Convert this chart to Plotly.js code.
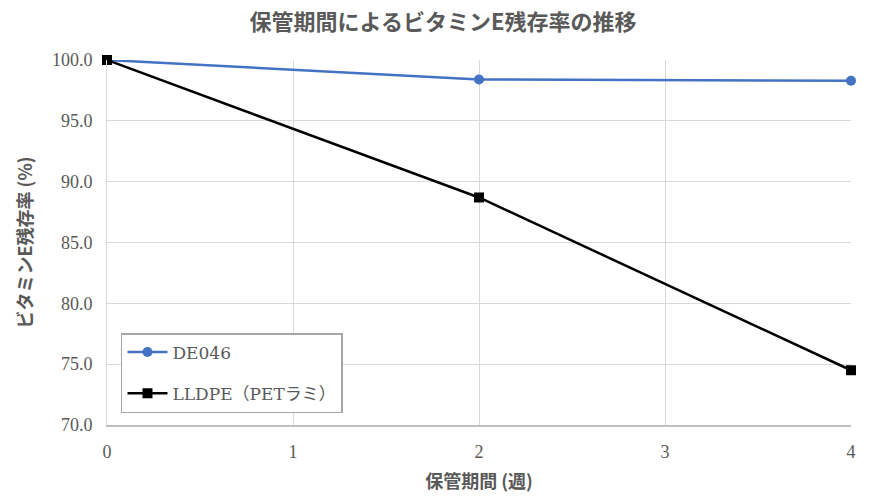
<!DOCTYPE html>
<html><head><meta charset="utf-8">
<script src="https://cdn.plot.ly/plotly-3.0.1.min.js"></script>
<style>html,body{margin:0;padding:0;background:#fff}#c{width:886px;height:504px}</style>
</head><body><div id="c"></div>
<script>
const weeks = [0, 2, 4];
const de046 = [100.0, 98.4, 98.3];
const lldpe = [100.0, 88.7, 74.5];
const seriesNames = ["DE046", "LLDPE（PETラミ）"];
const xTicks = [0, 1, 2, 3, 4];
const yTicks = [70, 75, 80, 85, 90, 95, 100];

const serif = "Liberation Serif, DejaVu Serif, Noto Sans CJK JP, serif";
const legendSerif = "DejaVu Serif, Liberation Serif, Noto Sans CJK JP, serif";
const sans = "Noto Sans CJK JP, Noto Sans, sans-serif";
const gray = "#595959";

const traces = [
  {x: weeks, y: de046, name: seriesNames[0], mode: "lines+markers", legendgroup: "a", cliponaxis: false,
   line: {color: "#4472C4", width: 2.5}, marker: {symbol: "circle", size: 10, color: "#4472C4"}},
  {x: weeks, y: lldpe, name: seriesNames[1], mode: "lines+markers", legendgroup: "b", cliponaxis: false,
   line: {color: "#000000", width: 2.5}, marker: {symbol: "square", size: 10, color: "#000000"}}
];

const layout = {
  width: 886, height: 504,
  margin: {l: 107, r: 35, t: 60, b: 79},
  paper_bgcolor: "#fff", plot_bgcolor: "#fff",
  title: {text: "<b>保管期間によるビタミンE残存率の推移</b>", font: {family: sans, size: 22, color: gray}, x: 0.5, xref: "container", y: 0.955, yref: "container", yanchor: "middle"},
  xaxis: {range: [0, 4], tickvals: xTicks, ticktext: xTicks.map(String), showgrid: true, gridcolor: "#d9d9d9", gridwidth: 1,
    zeroline: false, showline: true, linecolor: "#bfbfbf", linewidth: 1.5, ticks: "", ticklabelstandoff: 10,
    tickfont: {family: serif, size: 18, color: gray},
    title: {text: "<b>保管期間 (週)</b>", font: {family: sans, size: 18, color: gray}, standoff: 14}},
  yaxis: {range: [70, 100], tickvals: yTicks, ticktext: yTicks.map(v => v.toFixed(1)), showgrid: true, gridcolor: "#d9d9d9", gridwidth: 1,
    zeroline: false, showline: true, linecolor: "#d9d9d9", linewidth: 1, ticks: "", ticklabelstandoff: 10,
    tickfont: {family: serif, size: 18, color: gray},
    title: {text: "<b>ビタミンE残存率 (%)</b>", font: {family: sans, size: 18, color: gray}, standoff: 14}},
  showlegend: true,
  legend: {x: 0.0188, y: 0.252, xanchor: "left", yanchor: "top", bgcolor: "#fff", bordercolor: "#a6a6a6", borderwidth: 1.5,
    font: {family: legendSerif, size: 17, color: gray}, traceorder: "grouped", tracegroupgap: 16, itemwidth: 40},
};
Plotly.newPlot("c", traces, layout, {displayModeBar: false, staticPlot: true});
</script></body></html>
